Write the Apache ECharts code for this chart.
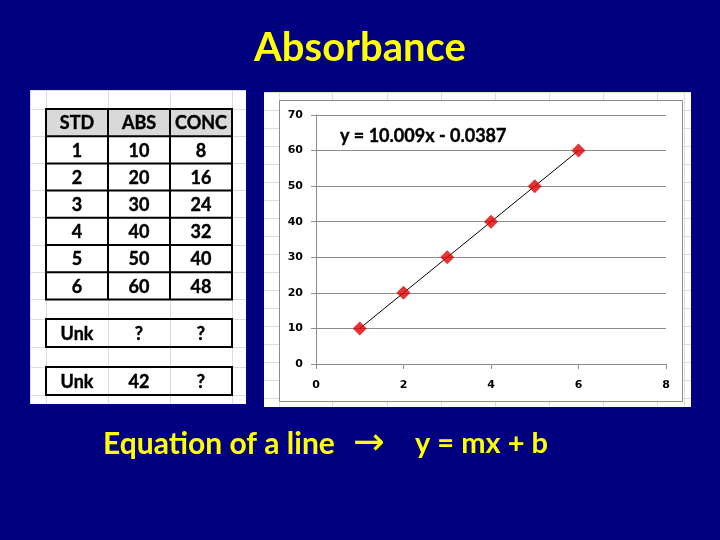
<!DOCTYPE html>
<html>
<head>
<meta charset="utf-8">
<script src="https://cdn.jsdelivr.net/npm/echarts@6/dist/echarts.min.js"></script>
<style>
html,body{margin:0;padding:0;background:#000080;}
#chart{width:720px;height:540px;}
</style>
</head>
<body>
<div id="chart"></div>
<script>
// ---- data ----
const titleText = 'Absorbance';
const footerLeft = 'Equation of a line';
const footerArrow = '\u2192';
const footerRight = 'y = mx + b';
const tableHeaders = ['STD', 'ABS', 'CONC'];
const stdNums = [1, 2, 3, 4, 5, 6];
const absValues = [10, 20, 30, 40, 50, 60];
const concValues = [8, 16, 24, 32, 40, 48];
const unkRow1 = ['Unk', '?', '?'];
const unkRow2 = ['Unk', '42', '?'];
const equationText = 'y = 10.009x - 0.0387';
const xTicks = [0, 2, 4, 6, 8];
const yTicks = [0, 10, 20, 30, 40, 50, 60, 70];

// ---- layout ----
const BG = '#000080';
const YELLOW = '#ffff00';
const colX = [46, 108, 170, 232];
const headerTop = 109, rowH = 27.2;
const unkTops = [319, 367];
const unkH = 28;

const g = [];
// left sheet panel
g.push({type:'rect', z:-5, shape:{x:30, y:90, width:216, height:314}, style:{fill:'#ffffff'}});
[30.5, 46.5, 108.5, 170.5, 232.5].forEach(x => g.push({type:'line', z:-4, shape:{x1:x, y1:90, x2:x, y2:404}, style:{stroke:'#dcdcdc', lineWidth:1}}));
[90.5, 109.5, 136.5, 163.5, 190.5, 217.5, 245.5, 272.5, 299.5, 319.5, 347.5, 367.5, 395.5].forEach(y => g.push({type:'line', z:-4, shape:{x1:30, y1:y, x2:246, y2:y}, style:{stroke:'#dcdcdc', lineWidth:1}}));

// table header
const tableFont = 'bold 18px Lato';
g.push({type:'rect', z:-3, shape:{x:colX[0], y:headerTop, width:colX[3]-colX[0], height:rowH}, style:{fill:'#d9d9d9'}});
function cellText(txt, c, yc) {
  g.push({type:'text', z:3, style:{text:String(txt), x:(colX[c]+colX[c+1])/2, y:yc, font:tableFont, fill:'#000000', stroke:'#000000', lineWidth:0.4, textAlign:'center', align:'center', textVerticalAlign:'middle', verticalAlign:'middle'}});
}
tableHeaders.forEach((h, c) => cellText(h, c, headerTop + rowH/2 + 1));
stdNums.forEach((s, r) => {
  const yc = headerTop + rowH*(r+1) + rowH/2 + 1;
  cellText(s, 0, yc);
  cellText(absValues[r], 1, yc);
  cellText(concValues[r], 2, yc);
});
const tblBottom = headerTop + rowH*(stdNums.length+1);
for (let r = 0; r <= stdNums.length+1; r++) {
  const y = headerTop + rowH*r;
  g.push({type:'line', z:2, shape:{x1:colX[0]-1, y1:y, x2:colX[3]+1, y2:y}, style:{stroke:'#000', lineWidth:2}});
}
colX.forEach(x => g.push({type:'line', z:2, shape:{x1:x, y1:headerTop, x2:x, y2:tblBottom}, style:{stroke:'#000', lineWidth:2}}));
[unkRow1, unkRow2].forEach((row, i) => {
  const t = unkTops[i];
  g.push({type:'rect', z:2, shape:{x:colX[0], y:t, width:colX[3]-colX[0], height:unkH}, style:{fill:'transparent', stroke:'#000', lineWidth:2}});
  row.forEach((v, c) => cellText(v, c, t + unkH/2 + 1));
});

// right sheet panel
g.push({type:'rect', z:-5, shape:{x:264, y:92, width:427, height:315}, style:{fill:'#ffffff'}});
[279.5, 332.5, 387.5, 441.5, 495.5, 549.5, 603.5, 657.5, 684.5].forEach(x => g.push({type:'line', z:-4, shape:{x1:x, y1:92, x2:x, y2:407}, style:{stroke:'#dcdcdc', lineWidth:1}}));
[92.5, 110.5, 128.5, 146.5, 164.5, 182.5, 200.5, 218.5, 236.5, 254.5, 272.5, 290.5, 308.5, 326.5, 344.5, 362.5, 380.5, 398.5].forEach(y => g.push({type:'line', z:-4, shape:{x1:264, y1:y, x2:691, y2:y}, style:{stroke:'#dcdcdc', lineWidth:1}}));
g.push({type:'rect', z:-3, shape:{x:279.5, y:100.5, width:403, height:301}, style:{fill:'#ffffff', stroke:'#8c8c8c', lineWidth:1}});
g.push({type:'text', z:5, style:{text:equationText, x:340, y:136, font:'bold 18px Lato', fill:'#000000', stroke:'#000000', lineWidth:0.4, textAlign:'left', align:'left', textVerticalAlign:'middle', verticalAlign:'middle'}});

// title and footer
g.push({type:'text', z:5, style:{text:titleText, x:360, y:48, font:'bold 40px Lato', fill:YELLOW, textAlign:'center', align:'center', textVerticalAlign:'middle', verticalAlign:'middle'}});
g.push({type:'text', z:5, style:{text:footerLeft, x:103, y:444, font:'bold 30px Lato', fill:YELLOW, textAlign:'left', align:'left', textVerticalAlign:'middle', verticalAlign:'middle'}});
g.push({type:'text', z:5, style:{text:footerArrow, x:369, y:444, font:'38px "DejaVu Sans"', fill:YELLOW, textAlign:'center', align:'center', textVerticalAlign:'middle', verticalAlign:'middle'}});
g.push({type:'text', z:5, style:{text:footerRight, x:415, y:444, font:'bold 29px Lato', fill:YELLOW, textAlign:'left', align:'left', textVerticalAlign:'middle', verticalAlign:'middle'}});

const points = stdNums.map((x, i) => [x, absValues[i]]);

const chart = echarts.init(document.getElementById('chart'), null, {renderer:'canvas'});
chart.setOption({
  backgroundColor: BG,
  animation: false,
  graphic: {elements: g},
  grid: {left:316, right:54, top:115, bottom:176, containLabel:false},
  xAxis: {
    type:'value', min:xTicks[0], max:xTicks[xTicks.length-1], interval:2,
    axisLine:{show:true, onZero:false, lineStyle:{color:'#8c8c8c', width:1}},
    axisTick:{show:true, length:5, lineStyle:{color:'#8c8c8c'}},
    splitLine:{show:false},
    axisLabel:{color:'#000', fontFamily:'DejaVu Sans', fontWeight:'bold', fontSize:11, margin:16}
  },
  yAxis: {
    type:'value', min:yTicks[0], max:yTicks[yTicks.length-1], interval:10,
    axisLine:{show:true, lineStyle:{color:'#8c8c8c', width:1}},
    axisTick:{show:true, length:5, lineStyle:{color:'#8c8c8c'}},
    splitLine:{show:true, lineStyle:{color:'#8c8c8c', width:1}},
    axisLabel:{color:'#000', fontFamily:'DejaVu Sans', fontWeight:'bold', fontSize:11, margin:13}
  },
  series: [
    {type:'line', data:points, symbol:'none', lineStyle:{color:'#000', width:1}, z:2},
    {type:'scatter', data:points, symbol:'diamond', symbolSize:14, itemStyle:{color:'#e00000'}, z:3}
  ]
});
</script>
</body>
</html>
